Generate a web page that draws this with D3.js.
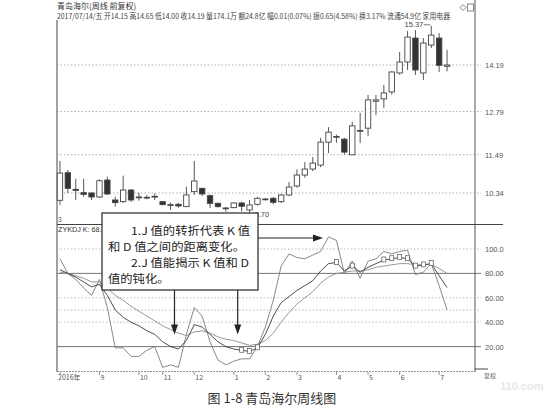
<!DOCTYPE html>
<html><head><meta charset="utf-8">
<script src="https://cdn.jsdelivr.net/npm/d3@7/dist/d3.min.js"></script>
<style>body{margin:0;background:#fff}svg{display:block}</style>
</head><body>
<svg id="c" width="544" height="412"></svg>
<script>
// ---------- data ----------
const weeks = ["2016-07-29","2016-08-05","2016-08-12","2016-08-19","2016-08-26","2016-09-02","2016-09-09","2016-09-16","2016-09-23","2016-09-30",
"2016-10-14","2016-10-21","2016-10-28","2016-11-04","2016-11-11","2016-11-18","2016-11-25","2016-12-02","2016-12-09","2016-12-16",
"2016-12-23","2016-12-30","2017-01-06","2017-01-13","2017-01-20","2017-01-26","2017-02-03","2017-02-10","2017-02-17","2017-02-24",
"2017-03-03","2017-03-10","2017-03-17","2017-03-24","2017-03-31","2017-04-07","2017-04-14","2017-04-21","2017-04-28","2017-05-05",
"2017-05-12","2017-05-19","2017-05-26","2017-06-02","2017-06-09","2017-06-16","2017-06-23","2017-06-30","2017-07-07","2017-07-14"];
const openP  = [10.12,10.95,10.45,10.35,10.34,10.22,10.73,10.13,10.08,10.43,10.22,10.20,10.22,10.08,9.98,10.00,9.93,10.38,10.48,10.26,10.03,9.88,9.90,10.04,9.83,10.00,10.15,10.18,10.08,10.28,10.55,10.88,11.06,11.18,11.87,12.02,11.96,11.49,12.20,12.29,13.10,13.17,13.38,13.95,14.28,15.00,13.95,14.79,15.00,14.15];
const highP  = [11.30,11.03,10.77,10.77,10.36,10.75,10.83,10.23,10.86,10.46,10.35,10.28,10.33,10.10,10.05,10.04,10.53,11.30,10.50,10.30,10.05,9.92,10.06,10.08,10.13,10.22,10.19,10.22,10.31,10.67,11.05,11.27,11.42,12.00,12.32,12.10,12.00,12.48,12.75,13.29,13.29,13.59,14.00,14.58,15.21,15.24,15.00,15.37,15.15,14.65];
const lowP   = [9.98,10.34,10.13,10.23,10.13,10.19,10.28,9.93,10.04,10.07,10.11,10.15,10.13,9.97,9.83,9.90,9.92,10.28,10.25,9.89,9.90,9.78,9.88,9.78,9.70,9.96,10.12,10.00,10.04,10.25,10.50,10.80,11.00,11.12,11.54,11.85,11.50,11.49,11.84,12.05,12.68,12.90,13.30,13.90,14.04,13.89,13.74,14.70,13.98,14.00];
const closeP = [10.94,10.48,10.42,10.30,10.22,10.71,10.31,10.05,10.43,10.13,10.21,10.21,10.24,9.99,9.99,9.95,10.28,10.70,10.31,10.03,9.93,9.89,10.04,9.94,9.98,10.18,10.16,10.06,10.28,10.52,10.88,11.06,11.24,11.87,12.17,12.04,11.57,12.36,12.22,13.14,13.14,13.35,13.98,14.28,15.03,14.04,14.85,15.09,14.18,14.19];
const kLine = [83,80,77,73,69,71,62,50,44,40,37,33,30,24,20,18,25,38,36,30,24,20,18,17,16,19,30,45,56,61,66,70,74,82,88,89,82,86,81,85,88,91,92,93,92,86,87,88,78,68.4];
const dLine = [81,80,78,76,73,73,68,62,58,53,49,45,41,37,34,31,29,32,33,31,28,26,25,23,21,22,25,31,40,48,55,60,65,72,77,80,81,82,82,83,85,86,87,88,88,87,87,87.5,84,80];
const jLine = [92,80,75,68,62,75,52,19,19,12,12,17,20,3,5,3,30,52,45,24,9,5,8,10,10,20,36,58,86,96,93,92,95,98,110,107,80,90,76,90,92,98,96,98,99,79,81,88,70,50];
const signalWeeks = [23,24,25,35,37,41,42,43,44,45,46,47];
const priceTicks = [14.19,12.79,11.49,10.34];
const kdjTicks = [100,80,60,40,20];
const kdjGrid = [100,80,60,50,40,20];
const kdjStrong = [80,20];
const titleText = "青岛海尔(周线 前复权)";
const infoText = "2017/07/14/五 开14.15 高14.65 低14.00 收14.19 量174.1万 额24.8亿 幅0.01(0.07%) 振0.65(4.58%) 换3.17% 流通54.9亿 家用电器";
const indicatorText = "ZYKDJ K: 68.4";
const noteLines = ["1.J 值的转折代表 K 值","和 D 值之间的距离变化。","2.J 值能揭示 K 值和 D","值的钝化。"];
const arrows = [{i:14.5, v:30, dir:"down"},{i:22.5, v:30, dir:"down"},{i:33.3, v:109, dir:"right"}];
const caption = "图 1-8 青岛海尔周线图";

// ---------- layout ----------
const svg = d3.select("#c");
const L = 57, R = 475;
const x = d3.scaleBand().domain(weeks).range([56, 451]);
const xc = i => x(weeks[0]) + x.step()*i + x.bandwidth()/2;
const y = d3.scaleLinear().domain([10.34, 14.19]).range([193, 65]);
const yk = d3.scaleLinear().domain([0, 100]).range([371, 249]);
const num = "'Liberation Sans', Arial, sans-serif";
const cjk = "'Noto Sans CJK SC', sans-serif";
const gray = "#555";

// header
svg.append("text").attr("x",57).attr("y",8.5).attr("font-family",cjk).attr("font-size",8).attr("fill","#333").text(titleText);
svg.append("text").attr("x",57).attr("y",19).attr("font-family",cjk).attr("font-size",7.6).attr("fill","#444")
  .attr("textLength",393).attr("lengthAdjust","spacingAndGlyphs").text(infoText);
svg.append("path").attr("d","M463,4.5L466,7.5L463,10.5L460,7.5Z").attr("fill","none").attr("stroke","#666").attr("stroke-width",0.8);
svg.append("rect").attr("x",467.5).attr("y",4).attr("width",6).attr("height",7).attr("fill","none").attr("stroke","#666").attr("stroke-width",0.8);

// frame lines
svg.append("line").attr("x1",L).attr("x2",L).attr("y1",20).attr("y2",372).attr("stroke","#444").attr("stroke-width",1);
svg.append("line").attr("x1",R).attr("x2",R).attr("y1",0).attr("y2",372).attr("stroke","#555").attr("stroke-width",1);
svg.append("line").attr("x1",L).attr("x2",503).attr("y1",224.5).attr("y2",224.5).attr("stroke","#444").attr("stroke-width",1.2);
svg.append("line").attr("x1",L).attr("x2",R).attr("y1",371.5).attr("y2",371.5).attr("stroke","#777").attr("stroke-width",0.8).attr("stroke-dasharray","2,1");
svg.append("line").attr("x1",R).attr("x2",488).attr("y1",369).attr("y2",369).attr("stroke","#444").attr("stroke-width",1);

// price grid + labels
const pg = svg.append("g");
priceTicks.forEach(p => {
  pg.append("line").attr("x1",L).attr("x2",481).attr("y1",y(p)).attr("y2",y(p))
    .attr("stroke","#999").attr("stroke-width",0.8).attr("stroke-dasharray","1.5,2");
  pg.append("text").attr("x",485).attr("y",y(p)+3).attr("font-family",num).attr("font-size",7.5).attr("fill",gray).text(p.toFixed(2));
});

// candles
const cg = svg.append("g");
weeks.forEach((w,i) => {
  const cx = xc(i), up = closeP[i] >= openP[i];
  cg.append("line").attr("x1",cx).attr("x2",cx).attr("y1",y(highP[i])).attr("y2",y(lowP[i])).attr("stroke","#444").attr("stroke-width",0.9);
  const top = y(Math.max(openP[i],closeP[i])), bot = y(Math.min(openP[i],closeP[i]));
  const bw = 5.4;
  cg.append("rect").attr("x",cx-bw/2).attr("y",top).attr("width",bw).attr("height",Math.max(bot-top,0.8))
    .attr("fill", up ? "#fff" : "#333").attr("stroke","#444").attr("stroke-width",0.9);
});
// high / low labels
const hi = d3.maxIndex(highP), lo = d3.minIndex(lowP);
svg.append("text").attr("x",xc(hi)-8).attr("y",y(highP[hi])+1).attr("text-anchor","end").attr("font-family",num).attr("font-size",7.5).attr("fill","#444").text(highP[hi].toFixed(2));
svg.append("path").attr("d",`M${xc(hi)-7.5},${y(highP[hi])-1}H${xc(hi)-1}`).attr("stroke","#555").attr("stroke-width",0.8).attr("fill","none");
svg.append("text").attr("x",xc(lo)+5).attr("y",y(lowP[lo])+2.5).attr("font-family",num).attr("font-size",7.5).attr("fill","#444").text(lowP[lo].toFixed(2));

// kdj grid
const kg = svg.append("g");
kdjGrid.forEach(v => {
  const strong = kdjStrong.includes(v);
  kg.append("line").attr("x1",L).attr("x2",481).attr("y1",yk(v)).attr("y2",yk(v))
    .attr("stroke", strong ? "#666" : "#aaa").attr("stroke-width", strong?0.9:0.8)
    .attr("stroke-dasharray", strong ? null : "1.5,2");
});
kdjTicks.forEach(v => {
  kg.append("text").attr("x",485).attr("y",yk(v)+3).attr("font-family",num).attr("font-size",7.5).attr("fill",gray).text(v===100?"100.0":v.toFixed(2));
});
svg.append("text").attr("x",58).attr("y",222).attr("font-family",num).attr("font-size",6.5).attr("fill","#555").text("3");
svg.append("text").attr("x",58).attr("y",231.5).attr("font-family",num).attr("font-size",7.2).attr("fill","#333").text(indicatorText);

// kdj lines
const line = d3.line().x((d,i)=>xc(i)).y(d=>yk(d));
svg.append("path").datum(jLine).attr("d",line).attr("fill","none").attr("stroke","#7a7a7a").attr("stroke-width",0.9);
svg.append("path").datum(dLine).attr("d",line).attr("fill","none").attr("stroke","#8c8c8c").attr("stroke-width",0.9);
svg.append("path").datum(kLine).attr("d",line).attr("fill","none").attr("stroke","#3a3a3a").attr("stroke-width",0.9);
signalWeeks.forEach(i => {
  svg.append("rect").attr("x",xc(i)-2).attr("y",yk(kLine[i])-3).attr("width",4).attr("height",5)
    .attr("fill","#fff").attr("stroke","#555").attr("stroke-width",0.7);
});

// x axis labels
let last = -10;
weeks.forEach((w,i) => {
  const d = new Date(w), prev = i>0 ? new Date(weeks[i-1]) : null;
  let lab = null;
  if (i===0) lab = d.getFullYear()+"年";
  else if (d.getMonth()!==prev.getMonth() && i-last>=3) lab = String(d.getMonth()+1);
  if (lab) {
    last = i;
    svg.append("line").attr("x1",xc(i)).attr("x2",xc(i)).attr("y1",372).attr("y2",375).attr("stroke","#666").attr("stroke-width",0.7);
    svg.append("text").attr("x", i===0 ? 58 : xc(i)+1).attr("y",380).attr("font-family",cjk).attr("font-size",7).attr("fill","#555").text(lab);
  }
});
svg.append("text").attr("x",484).attr("y",378).attr("font-family",cjk).attr("font-size",6).attr("fill","#666").text("复权");
svg.append("text").attr("x",500).attr("y",390).attr("font-family",num).attr("font-size",11).attr("font-weight","bold").attr("fill","#e8e8e8").text("110.com");

// annotation box
svg.append("rect").attr("x",102).attr("y",213).attr("width",156).attr("height",77)
  .attr("fill","#fff").attr("stroke","#333").attr("stroke-width",1.3);
const nx = [131,108,131,108];
noteLines.forEach((t,k) => {
  const tt = svg.append("text").attr("x",nx[k]).attr("y",234.5+k*16).attr("font-family",cjk).attr("font-size",12.3).attr("fill","#222").text(t);
  const w = tt.node().getComputedTextLength();
  tt.attr("font-size",11).attr("textLength",w).attr("lengthAdjust","spacingAndGlyphs");
});
arrows.forEach(a => {
  const tx = x(weeks[0]) + x.step()*a.i + x.bandwidth()/2, ty = yk(a.v);
  if (a.dir==="down") {
    svg.append("line").attr("x1",tx).attr("x2",tx).attr("y1",290).attr("y2",ty-8).attr("stroke","#222").attr("stroke-width",1.2);
    svg.append("path").attr("d",`M${tx-3.5},${ty-10}L${tx+3.5},${ty-10}L${tx},${ty}Z`).attr("fill","#222");
  } else {
    svg.append("line").attr("x1",258).attr("x2",tx-8).attr("y1",ty).attr("y2",ty).attr("stroke","#222").attr("stroke-width",1.2);
    svg.append("path").attr("d",`M${tx-10},${ty-3.5}L${tx-10},${ty+3.5}L${tx},${ty}Z`).attr("fill","#222");
  }
});

// caption
svg.append("text").attr("x",272).attr("y",403).attr("text-anchor","middle").attr("font-family",cjk).attr("font-size",13).attr("fill","#333").text(caption);
</script>
</body></html>
